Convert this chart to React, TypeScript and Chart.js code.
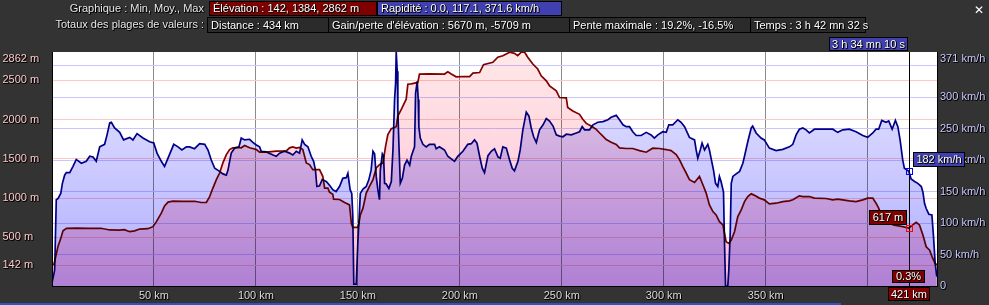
import React, { useEffect, useRef } from "react";
import { Chart, registerables } from "chart.js";

Chart.register(...registerables);

// ---------- DATA ----------
const elevKm = [
  0, 1.0, 1.8, 2.9, 4.3, 5.4, 7.1, 12, 18, 24, 28.3, 33, 35.5, 38.1, 40.5, 43, 47, 49.5, 51.2, 53.6,
  55.2, 56.9, 59.3, 64, 70, 73.2, 75.7, 77.3, 78.9, 80.6, 82.2, 83.8, 85.5, 87.1, 88.7, 91.2, 92.8, 94.5, 96.9, 100.2,
  101.8, 105.1, 110, 114.9, 116.5, 118.1, 119.8, 121.4, 123.0, 124.7, 126.3, 127.9, 131.2, 132.8, 133.7, 135.3, 136.1, 137.7, 138.1, 141.0,
  143.5, 145.9, 146.8, 147.5, 150.0, 150.5, 151.2, 152.5, 154.1, 155.7, 157.4, 159.0, 160.6, 162.3, 163.6, 164.7, 166.4, 168.8, 169.6, 171.3,
  173.7, 174.5, 176.2, 179.4, 180.2, 185.1, 192.5, 194.1, 195.8, 198.2, 201.5, 204.8, 206.4, 209.7, 211.6, 216.2, 218.6, 221.1, 224.4, 226.8,
  228.4, 230.1, 231.7, 233.3, 235.8, 238.2, 239.9, 242.4, 244.0, 247.3, 248.9, 252.2, 252.9, 255.4, 258.7, 260.3, 262.0, 264.4, 266.9, 269.3,
  271.8, 274.2, 276.7, 278.3, 281.5, 284.8, 288.1, 291.4, 294.6, 297.9, 301.2, 303.6, 306.1, 307.7, 309.3, 311.0, 312.6, 315.1, 317.5, 319.2,
  320.8, 322.4, 324.1, 325.7, 327.3, 329.0, 329.8, 330.6, 331.9, 333.1, 334.7, 336.3, 338.0, 339.6, 341.2, 342.9, 344.5, 346.9, 349.3, 351.8,
  355.1, 358.4, 361.6, 363.3, 366.5, 368.2, 371.4, 373.9, 379.6, 382.9, 385.3, 391.0, 394.3, 397.6, 400.0, 402.5, 404.1, 405.4, 406.9, 410.3,
  412.5, 417.2, 420.2, 422.1, 423.8, 425.4, 427.1, 428.7, 430.4, 431.6, 433.1, 434,
];
const elevM = [
  145, 160, 251, 380, 487, 585, 615, 618, 614, 616, 594, 592, 598, 572, 582, 606, 610, 636, 700, 808,
  901, 949, 961, 958, 960, 944, 944, 1020, 1128, 1235, 1320, 1449, 1555, 1619, 1641, 1645, 1641, 1670, 1641, 1619,
  1585, 1585, 1598, 1602, 1641, 1653, 1637, 1645, 1619, 1449, 1427, 1363, 1363, 1277, 1128, 1128, 1075, 1050, 987, 982,
  943, 914, 679, 626, 626, 679, 786, 872, 1064, 1149, 1235, 1385, 1427, 1449, 1662, 1811, 1885, 1910, 2046, 2132,
  2260, 2452, 2456, 2474, 2581, 2584, 2581, 2610, 2581, 2546, 2550, 2548, 2593, 2600, 2700, 2731, 2795, 2815, 2859, 2845,
  2815, 2859, 2862, 2795, 2709, 2645, 2559, 2495, 2431, 2367, 2282, 2278, 2154, 2110, 2068, 2004, 1952, 1918, 1876, 1811,
  1747, 1713, 1683, 1641, 1632, 1632, 1606, 1585, 1636, 1632, 1619, 1606, 1555, 1491, 1405, 1320, 1235, 1200, 1277, 1170,
  1064, 914, 828, 786, 700, 658, 551, 444, 423, 465, 572, 764, 850, 956, 1020, 1055, 1035, 1000, 978, 927,
  935, 956, 965, 978, 1029, 1020, 1020, 1000, 995, 978, 987, 965, 956, 978, 1000, 1000, 935, 872, 764, 744,
  658, 636, 617, 658, 692, 658, 530, 380, 337, 251, 167, 150,
];

const speedKm = [
  0, 0.2, 1.3, 2.1, 3.0, 4.3, 5.1, 6.2, 7.0, 8.7, 10.3, 11.9, 14.4, 16.8, 18.5, 20.1, 21.7, 23.4, 25.8, 27.0,
  28.3, 29.1, 30.7, 33.2, 35.1, 38.1, 39.7, 41.7, 44.6, 47.9, 49.9, 51.5, 53.6, 55.2, 56.9, 59.7, 61.8, 63.7, 65.9, 67.5,
  69.9, 72.4, 74.9, 76.5, 78.1, 79.8, 82.2, 83.8, 85.5, 86.3, 87.9, 89.6, 91.7, 92.8, 94.5, 96.9, 98.5, 100.2, 101.8, 102.6,
  105.1, 108.4, 110.0, 111.6, 114.1, 116.5, 118.1, 119.8, 121.4, 122.7, 123.9, 125.5, 127.1, 128.3, 129.2, 129.9, 131.2, 132.5, 133.7, 134.5,
  136.1, 137.7, 139.3, 141.0, 142.6, 144.3, 145.1, 146.2, 147.0, 147.5, 148.0, 149.2, 150.0, 150.5, 151.2, 152.5, 154.1, 155.4, 156.5, 157.4,
  158.2, 159.0, 159.8, 160.6, 161.0, 162.0, 162.6, 163.1, 163.9, 165.2, 166.4, 167.2, 168.0, 168.5, 168.8, 169.3, 169.6, 170.1, 170.8, 171.8,
  172.9, 174.1, 175.4, 176.2, 177.8, 178.3, 179.1, 179.6, 179.9, 180.6, 181.9, 183.5, 185.1, 187.6, 188.4, 190.0, 192.5, 194.1, 196.6, 197.4,
  199.0, 201.5, 203.9, 205.6, 207.2, 208.4, 209.7, 211.0, 212.1, 213.8, 215.4, 217.0, 218.7, 219.8, 221.1, 222.8, 224.4, 225.7, 226.8, 228.5,
  229.6, 230.9, 232.6, 233.9, 235.0, 236.2, 237.5, 239.1, 240.8, 242.4, 244.0, 245.7, 247.3, 248.9, 250.6, 252.2, 254.7, 257.1, 258.7, 260.0,
  261.2, 263.6, 265.3, 267.7, 270.2, 272.6, 274.2, 276.7, 278.3, 280.0, 281.6, 283.2, 284.8, 286.5, 288.9, 291.4, 293.8, 295.4, 297.1, 299.5,
  301.2, 302.5, 304.4, 306.9, 308.5, 310.2, 312.6, 315.1, 315.9, 316.7, 317.9, 318.8, 320.0, 321.6, 322.4, 323.2, 324.4, 325.4, 326.5, 327.3,
  328.1, 329.3, 329.8, 330.3, 331.4, 331.9, 332.6, 333.1, 333.9, 335.5, 337.2, 338.8, 339.6, 341.2, 342.9, 343.6, 345.3, 347.7, 349.3, 351.8,
  355.1, 358.4, 361.6, 363.3, 364.9, 366.5, 368.2, 369.8, 371.4, 373.9, 376.3, 379.6, 382.9, 385.3, 387.8, 391.0, 394.3, 397.6, 400.0, 402.5,
  404.1, 405.4, 406.9, 409.0, 410.3, 412.0, 413.6, 414.8, 415.9, 417.2, 418.0, 420.2, 421.3, 423.0, 424.6, 426.3, 427.1, 427.9, 428.7, 430.0,
  431.5, 432.3, 433.1, 433.9,
];
const speedKmh = [
  5, 5, 25, 137, 139, 147, 163, 176, 180, 180, 190, 201, 195, 198, 206, 205, 198, 221, 225, 240,
  259, 260, 251, 244, 232, 236, 232, 242, 235, 229, 227, 211, 198, 190, 203, 225, 221, 216, 221, 221,
  218, 226, 225, 216, 200, 187, 182, 178, 176, 184, 211, 219, 221, 235, 232, 233, 228, 224, 221, 214,
  213, 208, 206, 211, 214, 211, 208, 214, 211, 232, 225, 221, 206, 198, 184, 158, 159, 169, 167, 166,
  160, 153, 150, 158, 171, 172, 179, 153, 147, 113, 3, 3, 70, 100, 147, 154, 158, 169, 184, 214,
  210, 174, 153, 137, 184, 210, 207, 163, 162, 155, 166, 216, 296, 322, 371.6, 341, 280, 227, 163, 171,
  192, 200, 192, 206, 221, 306, 325, 296, 253, 235, 225, 221, 225, 225, 218, 221, 216, 206, 200, 198,
  206, 214, 225, 226, 232, 227, 206, 187, 180, 207, 214, 218, 205, 203, 221, 219, 200, 187, 183, 198,
  216, 248, 276, 270, 251, 237, 228, 248, 256, 266, 262, 254, 240, 238, 237, 241, 240, 243, 245, 253,
  248, 248, 256, 260, 261, 264, 268, 271, 264, 256, 253, 253, 245, 239, 239, 244, 240, 235, 240, 245,
  244, 256, 256, 264, 260, 253, 236, 232, 216, 203, 216, 227, 216, 225, 216, 203, 184, 163, 158, 174,
  166, 149, 68, 0, 0, 25, 84, 163, 174, 178, 182, 195, 206, 229, 251, 254, 243, 235, 232, 219,
  215, 217, 221, 225, 240, 249, 251, 248, 243, 249, 249, 249, 249, 244, 248, 249, 245, 239, 236, 243,
  249, 249, 263, 260, 262, 249, 263, 253, 232, 200, 187, 182, 170, 166, 163, 158, 149, 131, 123, 114,
  113, 78, 36, 15,
];

const elevTicks = [142, 500, 1000, 1500, 2000, 2500, 2862];
const speedTicks = [0, 50, 100, 150, 200, 250, 300, 350, 371.6];
const distTicks = [50, 100, 150, 200, 250, 300, 350, 400];

const cursorKm = 420.3;
const cursorElev = 617;
const cursorSpeed = 182;
const cursorSpeedLabel = "182 km/h";
const cursorElevLabel = "617 m";
const cursorGradeLabel = "0.3%";
const cursorDistLabel = "421 km";
const cursorTimeLabel = "3 h 34 mn 10 s";

const headerRow1Label = "Graphique : Min, Moy., Max";
const headerRow2Label = "Totaux des plages de valeurs :";
const headerBoxes = [
  { text: "Élévation : 142, 1384, 2862 m", left: 209, top: 1, width: 168, height: 15, bg: "#800000" },
  { text: "Rapidité : 0.0, 117.1, 371.6 km/h", left: 377, top: 1, width: 185, height: 15, bg: "#4040b0" },
  { text: "Distance : 434 km", left: 207, top: 17, width: 122, height: 16, bg: "#2b2b2b" },
  { text: "Gain/perte d'élévation : 5670 m, -5709 m", left: 328, top: 17, width: 242, height: 16, bg: "#2b2b2b" },
  { text: "Pente maximale : 19.2%, -16.5%", left: 569, top: 17, width: 182, height: 16, bg: "#2b2b2b" },
  { text: "Temps : 3 h 42 mn 32 s", left: 750, top: 17, width: 116, height: 16, bg: "#2b2b2b" },
];

// ---------- STYLE ----------
const FONT_FAMILY = '"Liberation Sans", Arial, sans-serif';
const FONT = `11px ${FONT_FAMILY}`;
const BG = "#333333";
const HALO = "1px 1px 0 #000, 1px 0 0 rgba(0,0,0,0.7), 0 1px 0 rgba(0,0,0,0.7)";

function shadowText(ctx: CanvasRenderingContext2D, text: string, x: number, y: number, color: string) {
  ctx.fillStyle = "rgba(0,0,0,0.7)";
  ctx.fillText(text, x + 1, y);
  ctx.fillText(text, x, y + 1);
  ctx.fillStyle = "rgba(0,0,0,0.95)";
  ctx.fillText(text, x + 1, y + 1);
  ctx.fillStyle = color;
  ctx.fillText(text, x, y);
}

function textBox(ctx: CanvasRenderingContext2D, text: string, left: number, top: number, w: number, h: number, bg: string) {
  ctx.fillStyle = bg;
  ctx.fillRect(left, top, w, h);
  ctx.strokeStyle = "#000";
  ctx.lineWidth = 1;
  ctx.strokeRect(left + 0.5, top + 0.5, w - 1, h - 1);
  ctx.textAlign = "center";
  ctx.textBaseline = "middle";
  shadowText(ctx, text, left + w / 2, top + h / 2 + 0.5, "#ffffff");
}

function vGrad(chart: any, c0: string, c1: string) {
  const a = chart.chartArea;
  if (!a) return c0;
  const g = chart.ctx.createLinearGradient(0, a.top, 0, a.bottom);
  g.addColorStop(0, c0);
  g.addColorStop(1, c1);
  return g;
}

const plotPlugin = {
  id: "plotDecor",
  beforeDraw(chart: any) {
    const { ctx, chartArea: a } = chart;
    ctx.save();
    ctx.fillStyle = BG;
    ctx.fillRect(0, 0, chart.width, chart.height);
    ctx.fillStyle = "#ffffff";
    ctx.fillRect(a.left, a.top, a.right - a.left, a.bottom - a.top);
    ctx.restore();
  },
  beforeDatasetsDraw(chart: any) {
    chart.ctx.save();
    chart.ctx.globalCompositeOperation = "multiply";
  },
  afterDatasetsDraw(chart: any) {
    chart.ctx.restore();
  },
  afterDraw(chart: any) {
    const ctx: CanvasRenderingContext2D = chart.ctx;
    const a = chart.chartArea;
    const xs = chart.scales.x;
    const ye = chart.scales.yElev;
    const ys = chart.scales.ySpeed;
    ctx.save();
    ctx.font = FONT;
    ctx.textBaseline = "middle";

    // left (elevation) tick labels
    ctx.textAlign = "left";
    ye.ticks.forEach((t: any) => {
      const y = Math.max(ye.getPixelForValue(t.value), a.top + 7);
      shadowText(ctx, `${Math.round(t.value)} m`, 2.5, y, "#ffcaca");
    });
    // right (speed) tick labels
    const topSpeedY = a.top + 7;
    ys.ticks.forEach((t: any, i: number) => {
      const raw = ys.getPixelForValue(t.value);
      const isTop = i === ys.ticks.length - 1;
      if (!isTop && Math.abs(raw - topSpeedY) < 12) return;
      const y = Math.max(raw, a.top + 7);
      const label = t.value === 0 ? "0" : `${Math.floor(t.value)} km/h`;
      shadowText(ctx, label, a.right + 3, y, "#cacaff");
    });

    const cx = Math.round(xs.getPixelForValue(cursorKm));

    // x tick labels
    ctx.textAlign = "center";
    xs.ticks.forEach((t: any) => {
      const px = xs.getPixelForValue(t.value);
      if (Math.abs(px - cx) < 50) return;
      shadowText(ctx, `${t.value} km`, px, a.bottom + 9.5, "#dcdcdc");
    });

    // cursor line
    ctx.strokeStyle = "#000";
    ctx.lineWidth = 1;
    ctx.beginPath();
    ctx.moveTo(cx + 0.5, a.top);
    ctx.lineTo(cx + 0.5, a.bottom);
    ctx.stroke();

    const sy = Math.round(ys.getPixelForValue(cursorSpeed));
    const ey = Math.round(ye.getPixelForValue(cursorElev));
    ctx.strokeStyle = "#0000ff";
    ctx.strokeRect(cx - 3 + 0.5, sy - 3 + 0.5, 6, 6);
    ctx.strokeStyle = "#ff0000";
    ctx.strokeRect(cx - 3 + 0.5, ey - 3 + 0.5, 6, 6);

    ctx.font = FONT;
    const wS = Math.round(ctx.measureText(cursorSpeedLabel).width + 7);
    textBox(ctx, cursorSpeedLabel, cx + 4, sy - 19, wS, 15, "#4040b0");
    ctx.font = FONT;
    const wE = Math.round(ctx.measureText(cursorElevLabel).width + 7);
    textBox(ctx, cursorElevLabel, cx - 2 - wE, ey - 18, wE, 15, "#800000");
    ctx.font = FONT;
    const wG = Math.round(ctx.measureText(cursorGradeLabel).width + 8);
    textBox(ctx, cursorGradeLabel, cx - Math.round(wG / 2), a.bottom - 16, wG, 13, "#800000");
    ctx.font = FONT;
    const wD = Math.round(ctx.measureText(cursorDistLabel).width + 6);
    textBox(ctx, cursorDistLabel, cx - Math.round(wD / 2), a.bottom + 1, wD, 14, "#800000");
    ctx.font = FONT;
    const wT = Math.round(ctx.measureText(cursorTimeLabel).width + 6);
    textBox(ctx, cursorTimeLabel, cx - 1 - wT, 37, wT, 14, "#4040b0");

    ctx.restore();
  },
};

export default function App() {
  const canvasRef = useRef<HTMLCanvasElement | null>(null);

  useEffect(() => {
    const canvas = canvasRef.current;
    if (!canvas) return;
    const chart = new Chart(canvas, {
      type: "line",
      data: {
        datasets: [
          {
            label: "Élévation",
            data: elevKm.map((x, i) => ({ x, y: elevM[i] })),
            yAxisID: "yElev",
            borderColor: "#800000",
            borderWidth: 1.7,
            pointRadius: 0,
            tension: 0,
            fill: "start",
            backgroundColor: (c: any) => vGrad(c.chart, "rgb(255,232,232)", "rgb(255,190,212)"),
          },
          {
            label: "Rapidité",
            data: speedKm.map((x, i) => ({ x, y: speedKmh[i] })),
            yAxisID: "ySpeed",
            borderColor: "#000088",
            borderWidth: 1.7,
            pointRadius: 0,
            tension: 0,
            fill: "start",
            backgroundColor: (c: any) => vGrad(c.chart, "rgb(232,232,255)", "rgb(176,172,255)"),
          },
        ],
      },
      options: {
        animation: false,
        responsive: false,
        devicePixelRatio: 1,
        layout: { padding: { top: 52, left: 0, right: 0, bottom: 0 } },
        plugins: { legend: { display: false }, tooltip: { enabled: false } },
        scales: {
          x: {
            type: "linear",
            position: "bottom",
            min: 0,
            max: 434,
            afterBuildTicks: (s: any) => {
              s.ticks = distTicks.map((v) => ({ value: v }));
            },
            afterFit: (s: any) => {
              s.height = 19;
            },
            ticks: { display: false },
            grid: { color: "#8c8c8c", lineWidth: 1, drawTicks: false },
            border: { display: true, color: "#000", width: 1 },
          },
          yElev: {
            type: "linear",
            position: "left",
            min: -120,
            max: 2862,
            afterBuildTicks: (s: any) => {
              s.ticks = elevTicks.map((v) => ({ value: v }));
            },
            afterFit: (s: any) => {
              s.width = 52;
            },
            ticks: { display: false },
            grid: {
              drawTicks: false,
              color: (c: any) => (c.tick && c.tick.value === elevTicks[elevTicks.length - 1] ? "rgba(0,0,0,0)" : "#ffc8c8"),
            },
            border: { display: true, color: "#000", width: 1 },
          },
          ySpeed: {
            type: "linear",
            position: "right",
            min: 0,
            max: 371.6,
            afterBuildTicks: (s: any) => {
              s.ticks = speedTicks.map((v) => ({ value: v }));
            },
            afterFit: (s: any) => {
              s.width = 52;
            },
            ticks: { display: false },
            grid: {
              drawTicks: false,
              color: (c: any) =>
                c.tick && (c.tick.value === 0 || c.tick.value === speedTicks[speedTicks.length - 1]) ? "rgba(0,0,0,0)" : "#c8c8ff",
            },
            border: { display: true, color: "#000", width: 1 },
          },
        },
      },
      plugins: [plotPlugin],
    } as any);
    return () => chart.destroy();
  }, []);

  const txt: React.CSSProperties = {
    position: "absolute",
    font: FONT,
    color: "#e8e8e8",
    textShadow: HALO,
    whiteSpace: "nowrap",
    lineHeight: "15px",
  };

  return (
    <div style={{ position: "absolute", left: 0, top: 0, width: 989, height: 305, background: BG, overflow: "hidden" }}>
      <canvas ref={canvasRef} width={989} height={305} style={{ display: "block", position: "absolute", left: 0, top: 0 }} />
      <div style={{ ...txt, right: 989 - 204, top: 1 }}>{headerRow1Label}</div>
      <div style={{ ...txt, right: 989 - 204, top: 17 }}>{headerRow2Label}</div>
      {headerBoxes.map((b, i) => (
        <div
          key={i}
          style={{
            ...txt,
            left: b.left,
            top: b.top,
            width: b.width,
            height: b.height,
            boxSizing: "border-box",
            background: b.bg,
            border: "1px solid #000",
            paddingLeft: 3,
            lineHeight: `${b.height - 2}px`,
            color: "#ffffff",
            overflow: "visible",
          }}
        >
          {b.text}
        </div>
      ))}
      <div
        style={{
          position: "absolute",
          left: 974,
          top: 2,
          font: `bold 12px "DejaVu Sans", sans-serif`,
          color: "#ffffff",
          lineHeight: "16px",
        }}
      >
        ✕
      </div>
      <div style={{ position: "absolute", left: 0, top: 303, width: 841, height: 2, background: "#2f50c0" }} />
    </div>
  );
}
